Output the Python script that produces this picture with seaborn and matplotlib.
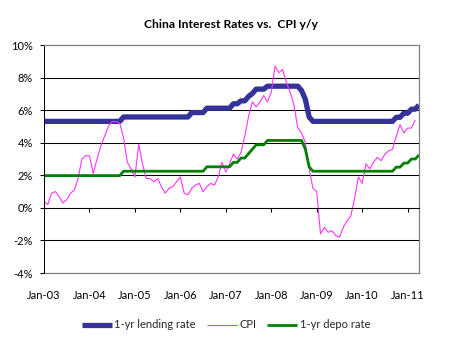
import numpy as np
import pandas as pd
import matplotlib
matplotlib.use("Agg")
import matplotlib.pyplot as plt
import seaborn as sns

# ---------------- data ----------------
months = pd.date_range("2003-01-01", periods=100, freq="MS")
month_labels = [d.strftime("%b-%y") for d in months]

lending_rate = ([5.31] * 21 + [5.58] * 18 + [5.85] * 4 + [6.12] * 7 + [6.39] * 2 +
                [6.57] * 2 + [6.84] + [7.02] + [7.29] * 3 + [7.47] * 9 + [7.20] +
                [6.66] + [5.58] + [5.31] * 22 + [5.56] * 2 + [5.81] * 2 + [6.06] * 2 + [6.31])

depo_rate = ([1.98] * 21 + [2.25] * 22 + [2.52] * 7 + [2.79] * 2 + [3.06] * 2 + [3.33] +
             [3.60] + [3.87] * 3 + [4.14] * 10 + [3.60] + [2.52] + [2.25] * 22 +
             [2.50] * 2 + [2.75] * 2 + [3.00] * 2 + [3.25])

cpi = [0.4, 0.2, 0.9, 1.0, 0.7, 0.3, 0.5, 0.9, 1.1, 1.8, 3.0, 3.2,
       3.2, 2.1, 3.0, 3.8, 4.4, 5.0, 5.3, 5.3, 5.2, 4.3, 2.8, 2.4,
       1.9, 3.9, 2.7, 1.8, 1.8, 1.6, 1.8, 1.3, 0.9, 1.2, 1.3, 1.6,
       1.9, 0.9, 0.8, 1.2, 1.4, 1.5, 1.0, 1.3, 1.5, 1.4, 1.9, 2.8,
       2.2, 2.7, 3.3, 3.0, 3.4, 4.4, 5.6, 6.5, 6.2, 6.5, 6.9, 6.5,
       7.1, 8.7, 8.3, 8.5, 7.7, 7.1, 6.3, 4.9, 4.6, 4.0, 2.4, 1.2,
       1.0, -1.6, -1.2, -1.5, -1.4, -1.7, -1.8, -1.2, -0.8, -0.5, 0.6, 1.9,
       1.5, 2.7, 2.4, 2.8, 3.1, 2.9, 3.3, 3.5, 3.6, 4.4, 5.1, 4.6,
       4.9, 4.9, 5.4, np.nan]

series_names = ["1-yr lending rate", "CPI", "1-yr depo rate"]
series_colors = ["#333399", "#FF33FF", "#008000"]
series_widths = [3.8, 0.8, 2.0]

y_ticks = [-4, -2, 0, 2, 4, 6, 8, 10]
x_label_idx = list(range(0, 100, 12))

title = "China Interest Rates vs.  CPI y/y"

# ---------------- plot ----------------
sns.set_theme(style="white")
plt.rcParams["font.family"] = ["Lato", "DejaVu Sans"]

df = pd.DataFrame({"idx": np.arange(len(months)),
                   series_names[0]: lending_rate,
                   series_names[1]: cpi,
                   series_names[2]: depo_rate})

fig = plt.figure(figsize=(4.5, 3.43), dpi=100)
ax = fig.add_axes([44 / 450, 1 - 273 / 343, (419 - 44) / 450, (273 - 45) / 343])

for name, col, lw in zip(series_names, series_colors, series_widths):
    sns.lineplot(data=df, x="idx", y=name, ax=ax, color=col, linewidth=lw,
                 label=name, legend=False, solid_capstyle="butt",
                 solid_joinstyle="round")

ax.set_xlim(0, len(months) - 1)
ax.set_ylim(-4, 10)
ax.set_xlabel("")
ax.set_ylabel("")

# y axis
ax.set_yticks(y_ticks)
ax.set_yticklabels([f"{v}%" for v in y_ticks], fontsize=8, color="black")
ax.tick_params(axis="y", left=True, direction="out", length=3, width=0.75,
               color="black", pad=5)
ax.yaxis.grid(True, color="black", linewidth=0.75)
ax.set_axisbelow(True)
gl = ax.get_ygridlines()
gl[0].set_visible(False)
gl[-1].set_visible(False)

# category axis crossing at 0
ax.spines["bottom"].set_position(("data", 0))
ax.spines["bottom"].set_color("black")
ax.spines["bottom"].set_linewidth(0.75)
ax.spines["left"].set_color("black")
ax.spines["left"].set_linewidth(0.75)
for s in ["top", "right"]:
    ax.spines[s].set_color("#808080")
    ax.spines[s].set_linewidth(0.9)
ax.set_xticks(x_label_idx[1:])
ax.set_xticklabels([""] * len(x_label_idx[1:]))
ax.tick_params(axis="x", bottom=True, direction="out", length=3, width=0.75,
               color="black")

sec = ax.secondary_xaxis(0)
sec.set_xticks(x_label_idx)
sec.set_xticklabels([month_labels[i] for i in x_label_idx], fontsize=8, color="black")
sec.tick_params(axis="x", length=0, pad=12.5)
sec.spines["bottom"].set_color("#808080")
sec.spines["bottom"].set_linewidth(0.9)

fig.text(231 / 450, 1 - 27.5 / 343, title, ha="center", va="baseline",
         fontsize=8.7, fontweight="bold", color="black")

handles, labels = ax.get_legend_handles_labels()
fig.legend(handles, labels, loc="center", bbox_to_anchor=(226 / 450, 1 - 325 / 343),
           ncol=3, frameon=False, fontsize=8, handlelength=2.7,
           handletextpad=0.2, columnspacing=1.0)

fig.savefig("out.png", dpi=100)
